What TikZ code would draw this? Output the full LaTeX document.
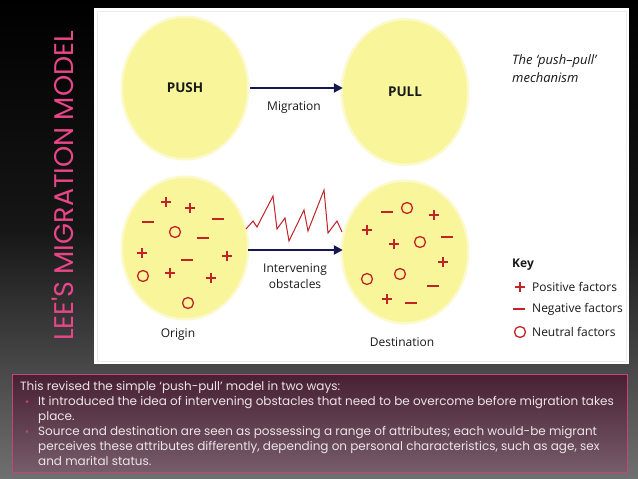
\documentclass[tikz,border=0pt]{standalone}
\usepackage{fontspec}
\setmainfont{Open Sans}
\newfontfamily\gothic{Poppins}
\usetikzlibrary{shapes.geometric,arrows.meta,positioning}

\definecolor{blobfill}{RGB}{249,245,155}
\definecolor{factor}{RGB}{192,36,40}
\definecolor{navy}{RGB}{22,24,80}
\definecolor{titlepink}{RGB}{232,70,136}
\definecolor{boxtop}{RGB}{72,32,52}
\definecolor{boxbot}{RGB}{118,92,106}
\definecolor{boxline}{RGB}{196,70,118}
\definecolor{notegray}{RGB}{236,228,232}
\definecolor{ink}{RGB}{25,25,25}
\definecolor{bgmid}{RGB}{22,22,22}
\definecolor{bgbot}{RGB}{112,112,112}

\newcommand\bul{\hspace*{5pt}\makebox[13pt][l]{\textcolor{boxline}{\raisebox{0.5pt}{\scalebox{0.85}{•}}}}}
\newcommand\ind{\hspace*{18pt}}

\tikzset{
  blob/.style={ellipse, fill=blobfill, inner sep=0pt, minimum width=124pt, minimum height=140pt,
    preaction={draw=blobfill!85!white, line width=5pt, opacity=0.6},
    font=\fontsize{13.5}{16}\selectfont\bfseries, text=ink},
  lbl/.style={font=\fontsize{12}{16}\selectfont, text=ink, align=center, inner sep=0pt},
  mig/.style={->, draw=navy, line width=2.4pt},
  note/.style={font=\gothic\fontsize{12}{15}\selectfont, text=notegray, align=left, inner sep=0pt},
  plusf/.pic={\draw[factor, line width=2.6pt] (-5,0) -- (5,0) (0,-5) -- (0,5);},
  minusf/.pic={\draw[factor, line width=2.6pt] (-6,0) -- (6,0);},
  neutf/.pic={\draw[factor, line width=1.3pt] (0,0) circle (5.5pt);},
}

\begin{document}
\begin{tikzpicture}[x=1pt, y=-1pt, >={Triangle[length=9pt,width=9pt]}]
    \useasboundingbox (0,0) rectangle (638,479);
    % Background
    \shade[top color=black, bottom color=bgmid] (0,0) rectangle (638,230);
    \shade[top color=bgmid, bottom color=bgbot] (0,230) rectangle (638,479);

    % Title
    \node[rotate=90, text=titlepink, font=\gothic\fontsize{27}{27}\selectfont] (title) at (63,186) {LEE'S MIGRATION MODEL};

    % Panel
    \fill[white] (94,8) rectangle (629,364);
    \draw[black!8, line width=0.6pt] (97,11) rectangle (626,361);

    % Push-pull
    \node[blob] (push) at (185,88) {PUSH};
    \node[blob, minimum height=143pt] (pull) at (405,92) {PULL};
    \draw[mig] ([xshift=3pt]push.east) -- (push.east -| pull.west);
    \node[lbl] (miglbl) at (294,108) {Migration};
    \node[lbl, font=\fontsize{13}{18}\selectfont\itshape, align=left, anchor=west] (caption) at (512,69) {The ‘push–pull’\\mechanism};

    % Origin and destination
    \node[blob] (origin) at (185,248) {};
    \node[blob] (dest) at (405,252) {};
    \draw[mig] ([xshift=1pt,yshift=-2pt]origin.east) -- ([yshift=-2pt]origin.east -| dest.west);
    \node[lbl] (obslbl) at (295,276) {Intervening\\obstacles};
    \node[lbl] (originlbl) at (178,335) {Origin};
    \node[lbl] (destlbl) at (402,342) {Destination};

    % Obstacles
    \draw[factor, line width=1pt, line join=miter] (246,229) -- (253,221) -- (257,227) -- (273,196) -- (277,229)
        -- (285,218) -- (289,241) -- (304,210) -- (308,231) -- (324,190) -- (328,233) -- (337,221) -- (342,232);

    % Factors at origin
    \foreach \p in {(166,202),(190,208),(142,253),(227,256),(170,273),(211,278)} \pic at \p {plusf};
    \foreach \p in {(148,222),(218,219),(203,238),(187,260)} \pic at \p {minusf};
    \foreach \p in {(175,232),(143,276),(188,303)} \pic at \p {neutf};

    % Factors at destination
    \foreach \p in {(434,215),(367,230),(394,244),(443,262),(387,299)} \pic at \p {plusf};
    \foreach \p in {(387,212),(447,237),(433,286),(411,303)} \pic at \p {minusf};
    \foreach \p in {(407,208),(420,242),(367,279),(400,274)} \pic at \p {neutf};

    % Key
    \node[lbl, font=\fontsize{12}{14}\selectfont\bfseries, anchor=west] (key) at (512,265) {Key};
    \pic at (520,287) {plusf};
    \pic at (519,309) {minusf};
    \pic at (520,332) {neutf};
    \node[lbl, anchor=west] (kpos) at (532,287) {Positive factors};
    \node[lbl, anchor=west] (kneg) at (532,309) {Negative factors};
    \node[lbl, anchor=west] (kneu) at (532,332) {Neutral factors};

    % Notes
    \shade[top color=boxtop, bottom color=boxbot] (12,374) rectangle (627,472);
    \draw[boxline, line width=0.8pt] (12,374) rectangle (627,472);
    \node[note, anchor=north west] (notes) at (20,381.5) {This revised the simple ‘push-pull’ model in two ways:\\
        \bul It introduced the idea of intervening obstacles that need to be overcome before migration takes\\
        \ind place.\\
        \bul Source and destination are seen as possessing a range of attributes; each would-be migrant\\
        \ind perceives these attributes differently, depending on personal characteristics, such as age, sex\\
        \ind and marital status.};
\end{tikzpicture}
\end{document}
